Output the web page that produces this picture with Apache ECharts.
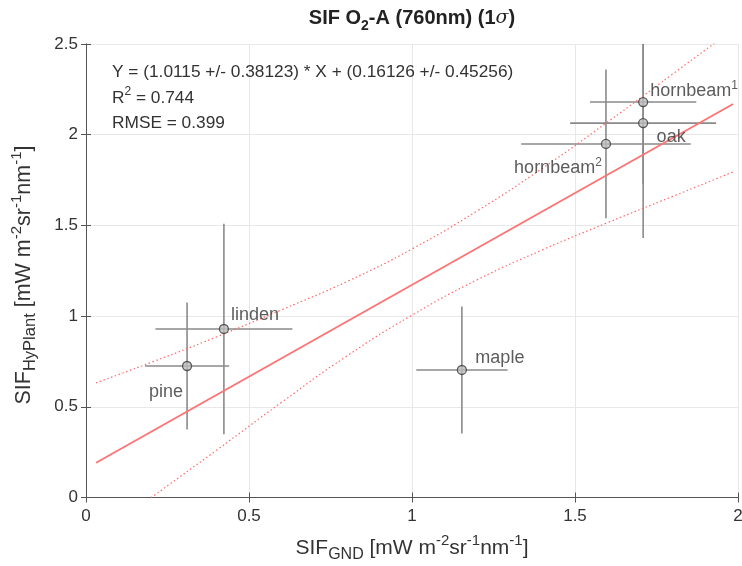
<!DOCTYPE html>
<html>
<head>
<meta charset="utf-8">
<script src="https://cdn.jsdelivr.net/npm/echarts@6/dist/echarts.min.js"></script>
<style>html,body{margin:0;padding:0;background:#fff}#c{width:742px;height:566px}</style>
</head>
<body>
<div id="c"></div>
<script>
// ---- data ----
const names  = ['pine', 'linden', 'maple', 'hornbeam2', 'oak', 'hornbeam1'];
const labels = ['pine', 'linden', 'maple', 'hornbeam{sup|2}', 'oak', 'hornbeam{sup|1}'];
const xVals  = [0.310, 0.423, 1.153, 1.595, 1.709, 1.709];
const yVals  = [0.725, 0.929, 0.703, 1.949, 2.064, 2.180];
const xErr   = [0.129, 0.210, 0.140, 0.260, 0.224, 0.163];
const yErr   = [0.350, 0.580, 0.350, 0.410, 0.634, 0.450];
const fitLine   = [[0.031, 0.192], [1.985, 2.169]];
const upperBand = [[0.031, 0.632], [0.2, 0.745], [0.4, 0.885], [0.6, 1.035], [0.8, 1.19], [1.0, 1.37], [1.2, 1.58], [1.4, 1.815], [1.6, 2.07], [1.8, 2.335], [1.985, 2.58]];
const lowerBand = [[0.2, 0.0], [0.4, 0.26], [0.6, 0.525], [0.8, 0.78], [1.0, 1.005], [1.2, 1.2], [1.4, 1.365], [1.6, 1.515], [1.8, 1.66], [1.985, 1.795]];
const xTicks = { min: 0, max: 2, interval: 0.5 };
const yTicks = { min: 0, max: 2.5, interval: 0.5 };
// label offsets (pixels) relative to marker
const labelOffsets = [[-21, 26], [31, -14], [38, -12], [-48, 24], [28, 14], [51, -11]];

const FONT = 'Liberation Sans, Arial, Helvetica, sans-serif';
const TXT = '#333';
const AX = '#555';

const chart = echarts.init(document.getElementById('c'), null, { renderer: 'canvas' });

const axisCommon = {
  axisLine: { show: true, lineStyle: { color: AX, width: 1 } },
  axisTick: { show: true, inside: true, length: 5, lineStyle: { color: AX } },
  splitLine: { show: false }
};

const option = {
  backgroundColor: '#fff',
  animation: false,
  grid: { left: 86, right: 4, top: 44, bottom: 68.5, containLabel: false, outerBoundsMode: 'none' },
  xAxis: [
    Object.assign({
      type: 'value', min: xTicks.min, max: xTicks.max, interval: xTicks.interval, position: 'bottom',
      axisLabel: { color: TXT, fontSize: 17, fontFamily: FONT, margin: 10 },
    }, axisCommon, { splitLine: { show: true, lineStyle: { color: '#e8e8e8', width: 1 } } }),
    Object.assign({
      type: 'value', min: xTicks.min, max: xTicks.max, interval: xTicks.interval, position: 'top',
      axisLabel: { show: false }
    }, axisCommon)
  ],
  yAxis: [
    Object.assign({
      type: 'value', min: yTicks.min, max: yTicks.max, interval: yTicks.interval, position: 'left',
      axisLabel: { color: TXT, fontSize: 17, fontFamily: FONT, margin: 8 },
    }, axisCommon, { splitLine: { show: true, lineStyle: { color: '#e8e8e8', width: 1 } } }),
    Object.assign({
      type: 'value', min: yTicks.min, max: yTicks.max, interval: yTicks.interval, position: 'right',
      axisLabel: { show: false }
    }, axisCommon)
  ],
  series: [
    {
      type: 'custom',
      clip: true,
      z: 2,
      data: xVals.map((x, i) => [x, yVals[i], xErr[i], yErr[i]]),
      encode: { x: 0, y: 1 },
      renderItem: function (params, api) {
        const x = api.value(0), y = api.value(1), ex = api.value(2), ey = api.value(3);
        const l = api.coord([x - ex, y]);
        const r = api.coord([x + ex, y]);
        const t = api.coord([x, Math.min(y + ey, yTicks.max)]);
        const b = api.coord([x, Math.max(y - ey, yTicks.min)]);
        const st = { stroke: '#8a8a8a', lineWidth: 1.6 };
        return {
          type: 'group',
          children: [
            { type: 'line', shape: { x1: l[0], y1: l[1], x2: r[0], y2: r[1] }, style: st },
            { type: 'line', shape: { x1: t[0], y1: t[1], x2: b[0], y2: b[1] }, style: st }
          ]
        };
      }
    },
    {
      type: 'line',
      data: upperBand,
      showSymbol: false, symbol: 'none', smooth: true, clip: true, z: 3,
      lineStyle: { color: '#ff6a6a', width: 1.2, type: [1.5, 2.5] }
    },
    {
      type: 'line',
      data: lowerBand,
      showSymbol: false, symbol: 'none', smooth: true, clip: true, z: 3,
      lineStyle: { color: '#ff6a6a', width: 1.2, type: [1.5, 2.5] }
    },
    {
      type: 'line',
      data: fitLine,
      showSymbol: false, symbol: 'none', clip: true, z: 4,
      lineStyle: { color: '#ff7272', width: 1.8 }
    },
    {
      type: 'scatter',
      z: 5,
      symbol: 'circle',
      symbolSize: 9,
      itemStyle: { color: '#bdbdbd', borderColor: '#3a3a3a', borderWidth: 1.3 },
      data: xVals.map((x, i) => ({
        name: names[i],
        value: [x, yVals[i]],
        label: {
          show: true,
          position: 'inside',
          offset: labelOffsets[i],
          formatter: labels[i],
          color: TXT,
          fontSize: 18,
          fontFamily: FONT,
          align: 'center',
          verticalAlign: 'middle',
          lineHeight: 22,
          rich: {
            sup: { fontSize: 12, fontFamily: FONT, color: TXT, verticalAlign: 'top', lineHeight: 22 }
          }
        }
      }))
    }
  ],
  graphic: [
    {
      type: 'text', x: 412, y: 18,
      style: {
        text: '{b|SIF O}{sub|2}{b|-A (760nm) (1}{i|σ}{b|)}',
        align: 'center', verticalAlign: 'middle',
        rich: {
          b: { fontSize: 20, fontWeight: 'bold', fontFamily: FONT, fill: '#222', lineHeight: 30, verticalAlign: 'middle' },
          sub: { fontSize: 14, fontWeight: 'bold', fontFamily: FONT, fill: '#222', lineHeight: 30, verticalAlign: 'bottom' },
          i: { fontSize: 19, fontStyle: 'italic', fontFamily: 'DejaVu Serif, serif', fill: '#222', lineHeight: 30, verticalAlign: 'middle' }
        }
      },
      z: 10
    },
    {
      type: 'text', x: 112, y: 72,
      style: {
        text: 'Y = (1.0115 +/- 0.38123) * X + (0.16126 +/- 0.45256)',
        fontSize: 17.3, fontFamily: FONT, fill: TXT, verticalAlign: 'middle'
      },
      z: 10
    },
    {
      type: 'text', x: 112, y: 98,
      style: {
        text: '{n|R}{sup|2}{n| = 0.744}',
        verticalAlign: 'middle',
        rich: {
          n: { fontSize: 17.3, fontFamily: FONT, fill: TXT, lineHeight: 24, verticalAlign: 'middle' },
          sup: { fontSize: 12, fontFamily: FONT, fill: TXT, lineHeight: 24, verticalAlign: 'top' }
        }
      },
      z: 10
    },
    {
      type: 'text', x: 112, y: 123,
      style: {
        text: 'RMSE = 0.399',
        fontSize: 17.3, fontFamily: FONT, fill: TXT, verticalAlign: 'middle'
      },
      z: 10
    },
    {
      type: 'text', x: 412, y: 548,
      style: {
        text: '{n|SIF}{sub|GND}{n| [mW m}{sup|-2}{n|sr}{sup|-1}{n|nm}{sup|-1}{n|]}',
        align: 'center', verticalAlign: 'middle',
        rich: {
          n: { fontSize: 21, fontFamily: FONT, fill: TXT, lineHeight: 30, verticalAlign: 'middle' },
          sub: { fontSize: 16, fontFamily: FONT, fill: TXT, lineHeight: 30, verticalAlign: 'bottom' },
          sup: { fontSize: 15, fontFamily: FONT, fill: TXT, lineHeight: 30, verticalAlign: 'top' }
        }
      },
      z: 10
    },
    {
      type: 'text', x: 24, y: 275, rotation: Math.PI / 2,
      style: {
        text: '{n|SIF}{sub|HyPlant}{n| [mW m}{sup|-2}{n|sr}{sup|-1}{n|nm}{sup|-1}{n|]}',
        align: 'center', verticalAlign: 'middle',
        rich: {
          n: { fontSize: 21.5, fontFamily: FONT, fill: TXT, lineHeight: 30, verticalAlign: 'middle' },
          sub: { fontSize: 16.5, fontFamily: FONT, fill: TXT, lineHeight: 30, verticalAlign: 'bottom' },
          sup: { fontSize: 15, fontFamily: FONT, fill: TXT, lineHeight: 30, verticalAlign: 'top' }
        }
      },
      z: 10
    }
  ]
};

chart.setOption(option);
</script>
</body>
</html>
